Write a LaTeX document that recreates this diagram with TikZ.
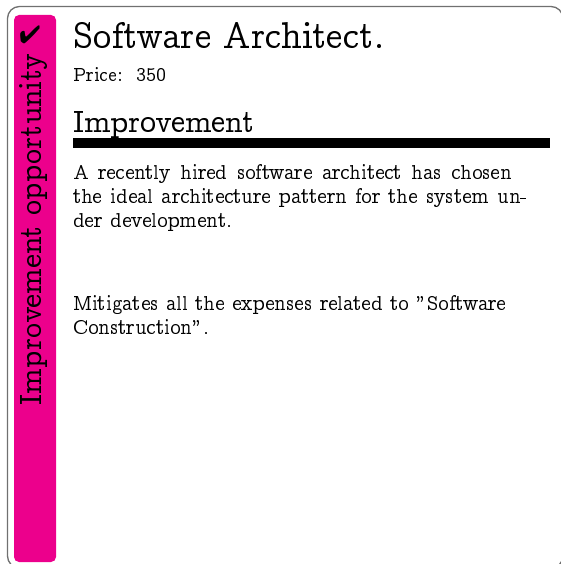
\documentclass[tikz,border=0pt]{standalone}
\usepackage[OT1]{fontenc}
\usepackage{pifont}
\DeclareFontFamily{OT1}{myconc}{}
\DeclareFontShape{OT1}{myconc}{m}{n}{<-> ccr10}{}
\renewcommand{\rmdefault}{myconc}
\definecolor{barmag}{HTML}{EC008C}
\definecolor{cardgray}{HTML}{707070}
\tikzset{
  txt/.style={anchor=base west, inner sep=0pt, outer sep=0pt},
  bodyfont/.style={font=\fontsize{21}{24}\selectfont},
}
\begin{document}
\begin{tikzpicture}[x=1pt,y=-1pt]
\useasboundingbox (0,0) rectangle (561,564);
\begin{scope}
\clip (0,0) rectangle (561,564);
\draw[cardgray, line width=1.3pt, rounded corners=12pt] (7.5,6.5) rectangle (563,568);
\end{scope}
\fill[barmag, rounded corners=5pt] (14,15) rectangle (56,562);
\node (chk) [inner sep=0pt, font=\fontsize{25}{25}\selectfont] at (30,35) {\ding{52}};
\node (side) [txt, rotate=90, font=\fontsize{31}{36}\selectfont] at (41,405) {Improvement opportunity};
\node (title) [txt, font=\fontsize{37}{44}\selectfont] at (73,49) {Software Architect.};
\node (price) [txt, font=\fontsize{20}{24}\selectfont] at (73,82) {Price:\ \ 350};
\node (head) [txt, font=\fontsize{31.5}{36}\selectfont] at (73,133) {Improvement};
\fill (73,138) rectangle (550,148);
\node (b1) [txt, bodyfont] at (73,179) {\makebox[439pt][s]{A recently hired software architect has chosen}};
\node (b2) [txt, bodyfont] at (73,203) {\makebox[455pt][s]{the ideal architecture pattern for the system un-}};
\node (b3) [txt, bodyfont] at (73,227) {\makebox[159pt][s]{der development.}};
\node (m1) [txt, bodyfont] at (73,310) {\makebox[433pt][s]{Mitigates all the expenses related to ''Software}};
\node (m2) [txt, bodyfont] at (73,334) {Construction''.};
\end{tikzpicture}
\end{document}
